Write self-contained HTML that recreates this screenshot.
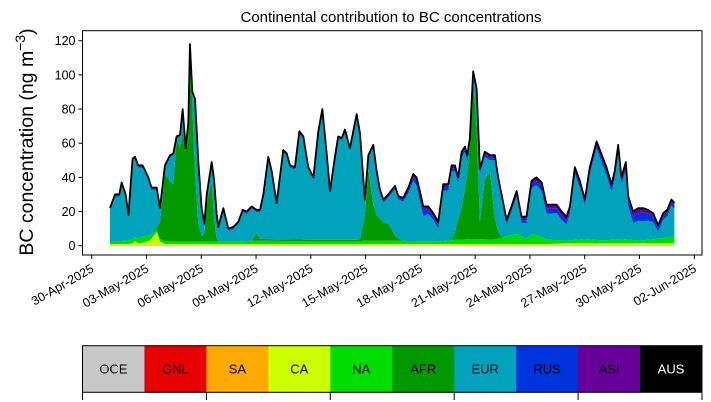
<!DOCTYPE html>
<html><head><meta charset="utf-8">
<style>
html,body{margin:0;padding:0;background:#fff;}
svg{display:block;font-family:"Liberation Sans","DejaVu Sans",sans-serif;}
</style></head>
<body>
<svg id="chart" width="711" height="402" viewBox="0 0 711 402"></svg>
<script>
// ---- data ----
const tickLabels = ["30-Apr-2025","03-May-2025","06-May-2025","09-May-2025","12-May-2025","15-May-2025","18-May-2025","21-May-2025","24-May-2025","27-May-2025","30-May-2025","02-Jun-2025"];
const tickDays = [0,3,6,9,12,15,18,21,24,27,30,33];
const yTicks = [0,20,40,60,80,100,120];
const regions = ["OCE","GNL","SA","CA","NA","AFR","EUR","RUS","ASI","AUS"];
const regionColors = ["#c8c8c8","#e60000","#ffaa00","#ccff00","#00dd00","#009900","#00a3bb","#0033dd","#660099","#000000"];
const totalDays = [1.00,1.28,1.51,1.64,1.86,2.01,2.24,2.37,2.55,2.79,3.10,3.28,3.56,3.74,4.01,4.29,4.47,4.65,4.84,4.98,5.15,5.29,5.38,5.51,5.66,5.84,6.02,6.17,6.30,6.57,6.70,6.84,6.93,7.21,7.48,7.76,8.03,8.27,8.49,8.76,9.03,9.22,9.40,9.67,9.85,10.13,10.49,10.68,10.86,11.13,11.37,11.59,11.86,12.14,12.41,12.63,12.86,13.05,13.32,13.50,13.69,13.87,14.14,14.51,14.69,14.96,15.15,15.42,15.60,15.78,15.97,16.24,16.61,16.79,17.06,17.34,17.61,17.79,17.97,18.16,18.43,18.71,18.98,19.25,19.53,19.71,19.89,20.07,20.26,20.44,20.57,20.71,20.89,21.08,21.26,21.53,21.81,22.08,22.26,22.54,22.72,22.99,23.27,23.54,23.81,24.09,24.36,24.64,24.91,25.18,25.46,25.73,26.00,26.19,26.46,26.73,27.01,27.28,27.65,27.83,28.19,28.47,28.65,28.83,29.01,29.25,29.38,29.65,29.93,30.20,30.47,30.75,31.02,31.30,31.52,31.75,31.91];
const totalValues = [22,30,30,37,30,18,51,52,47,47,40,34,34,22,47,53,54,64,65,80,57,72,118,90,86,49,22,13,30,49,39,19,11,22,10,11,14,21,20,23,21,21,30,52,44,25,56,54,47,46,67,64,46,40,67,80,55,32,52,64,63,68,57,77,66,27,53,59,44,33,27,30,35,29,28,34,42,40,32,23,23,19,14,36,36,47,47,40,55,58,53,63,102,92,45,55,53,53,40,25,15,23,32,17,17,38,40,37,24,24,24,20,17,23,46,38,27,46,61,56,46,36,44,59,40,49,29,20,22,22,21,19,12,19,21,27,25];
const afrDays = [0,3.5,3.7,4.0,4.3,4.5,4.65,4.84,4.98,5.15,5.29,5.38,5.51,5.66,5.84,6.02,6.2,6.4,6.57,6.75,6.9,8.8,8.95,9.1,14.8,14.96,15.15,15.3,15.6,16,16.3,16.6,17,19.8,20.0,20.3,20.6,20.89,21.1,21.26,21.53,21.81,22.1,22.3,22.5,32];
const afrValues = [0,0,5,40,35,33,60,55,65,55,60,112,80,40,10,3,5,40,35,5,0,0,8,1,1,15,42,25,15,10,10,3,0,0,10,20,40,100,60,10,35,40,10,2,0,0];
const naDays = [1,2.5,2.9,3.5,6,8,9,12,14.5,15,16,19,20,21,22,23.3,23.8,24.1,24.4,25,26,27,28,29,30,31,31.9];
const naValues = [1.2,2.5,4,1.5,1.5,1.5,2,1.5,1.5,2,2,1.5,2.5,3,2.5,6,3,6,5,2.5,1.5,2.5,1.5,2.5,1.5,2.5,4];
const caDays = [1,2.2,2.4,2.6,3.2,3.6,3.75,4,25,26,32];
const caValues = [0.5,0.5,2.5,0.6,2.5,8,1.5,0.5,0.5,1,1];
const saDays = [0,32]; const saValues = [0.2,0.2];
const gnlDays = [0,32]; const gnlValues = [0.1,0.1];
const oceDays = [0,32]; const oceValues = [0.2,0.2];
const rusDays = [1,15,17,18.2,18.5,23,25,26,27,28.5,29,29.7,30.2,30.6,31,31.9];
const rusValues = [0.5,0.5,1,4,2,1,3,2,1,2,1,4,5,4,2,2];
const asiDays = [1,17,18,19,20.5,28.7,30,30.5,31.9];
const asiValues = [0.7,1,2,2,1.5,3,3,2,1.5];

// ---- axes ----
const X0=82.5, X1=702, Y0=255, Y1=30.7;
const dayToX = d => 91.7 + d*18.26;
const valToY = v => 245.7 - v*1.7083;
const NS="http://www.w3.org/2000/svg";
const svg=document.getElementById('chart');
function mk(tag,attrs,parent){const e=document.createElementNS(NS,tag);for(const k in attrs)e.setAttribute(k,attrs[k]);(parent||svg).appendChild(e);return e;}
function interp(ds,vs,d){if(d<=ds[0])return vs[0];for(let i=1;i<ds.length;i++){if(d<=ds[i]){const t=(d-ds[i-1])/(ds[i]-ds[i-1]);return vs[i-1]+t*(vs[i]-vs[i-1]);}}return vs[vs.length-1];}

const comps = totalDays.map((d,i)=>{
  const oce=interp(oceDays,oceValues,d), gnl=interp(gnlDays,gnlValues,d), sa=interp(saDays,saValues,d), ca=interp(caDays,caValues,d), na=interp(naDays,naValues,d);
  const rus=interp(rusDays,rusValues,d), asi=interp(asiDays,asiValues,d);
  let afr=interp(afrDays,afrValues,d);
  const tot=totalValues[i];
  const base=oce+gnl+sa+ca+na;
  afr=Math.min(afr,Math.max(0,tot-base-rus-asi-0.5));
  const eur=Math.max(0,tot-base-afr-rus-asi);
  return [oce,gnl,sa,ca,na,afr,eur,rus,asi,0];
});
const g=mk('g',{});


let lower=totalDays.map(()=>0);
regions.forEach((r,k)=>{
  const upper=lower.map((l,i)=>l+comps[i][k]);
  let dstr='M'+totalDays.map((d,i)=>dayToX(d).toFixed(2)+','+valToY(upper[i]).toFixed(2)).join('L');
  for(let i=totalDays.length-1;i>=0;i--) dstr+='L'+dayToX(totalDays[i]).toFixed(2)+','+valToY(lower[i]).toFixed(2);
  const p=mk('path',{d:dstr+'Z',fill:regionColors[k],stroke:'none'},g);
  
  
  lower=upper;
});
const tl=mk('polyline',{points:totalDays.map((d,i)=>dayToX(d).toFixed(2)+','+valToY(totalValues[i]).toFixed(2)).join(' '),fill:'none',stroke:'#000','stroke-width':1.8,'stroke-linejoin':'round'});



const fr=mk('rect',{x:X0,y:Y1,width:X1-X0,height:Y0-Y1,fill:'none',stroke:'#000','stroke-width':1});



yTicks.forEach(v=>{
  const y=valToY(v);
  mk('line',{x1:X0-4,x2:X0,y1:y,y2:y,stroke:'#000'});
  const t=mk('text',{x:X0-7,y:y+4.5,'text-anchor':'end','font-size':12.5,fill:'#000'});
  t.textContent=v;
  
  
});
tickDays.forEach((d,i)=>{
  const x=dayToX(d);
  mk('line',{x1:x,x2:x,y1:Y0,y2:Y0+4,stroke:'#000'});
  const t=mk('text',{x:x+3,y:Y0+16,'text-anchor':'end','font-size':12.5,fill:'#000',transform:`rotate(-30 ${x+3} ${Y0+16})`});
  t.textContent=tickLabels[i];
  
  
});
const ti=mk('text',{x:391,y:22,'text-anchor':'middle','font-size':15,fill:'#000'});
ti.textContent='Continental contribution to BC concentrations';


const yl=mk('text',{x:33,y:142,'text-anchor':'middle','font-size':19.5,fill:'#000',transform:'rotate(-90 33 142)'});
yl.innerHTML='BC concentration (ng m<tspan dy="-8" font-size="14">−3</tspan><tspan dy="8">)</tspan>';



const cb=mk('g',{});


const cw=(X1-X0)/regions.length;
regions.forEach((r,k)=>{
  const x=X0+k*cw;
  const rc=mk('rect',{x:x,y:345.7,width:cw+0.5,height:46.6,fill:regionColors[k]},cb);
  
  
  const t=mk('text',{x:x+cw/2,y:373.5,'text-anchor':'middle','font-size':13,fill:k===9?'#fff':'#000'},cb);
  t.textContent=r;
  
  
});
mk('rect',{x:X0,y:345.7,width:X1-X0,height:46.6,fill:'none',stroke:'#000'},cb);
for(let k=0;k<=regions.length;k+=2){const x=X0+k*cw;mk('line',{x1:x,x2:x,y1:392.3,y2:400,stroke:'#000'},cb);}
</script>
</body></html>
